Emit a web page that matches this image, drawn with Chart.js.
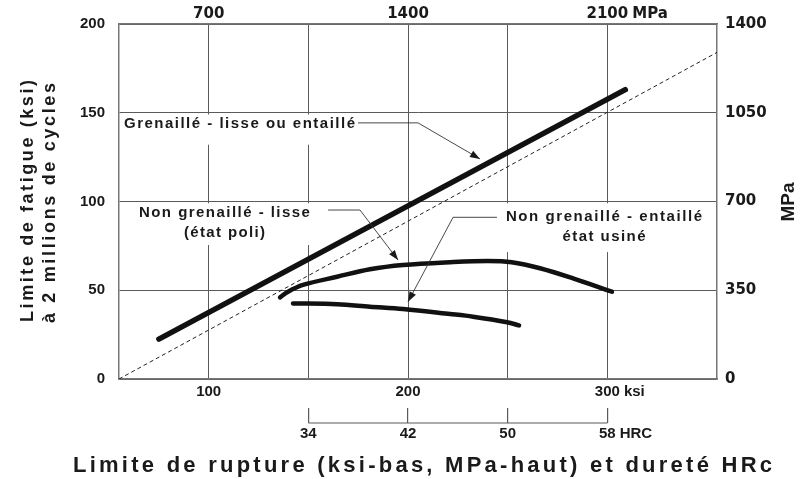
<!DOCTYPE html>
<html lang="fr">
<head>
    <meta charset="UTF-8">
    <title>Limite de fatigue et grenaillage</title>
    <script src="https://cdn.jsdelivr.net/npm/chart.js"></script>
    <style>
        body {
            margin: 0;
            background-color: #fff;
        }
        .chart-container {
            width: 806px;
            height: 479px;
            position: relative;
        }
    </style>
</head>
<body>
    <div class="chart-container">
        <canvas id="fatigueChart"></canvas>
    </div>

    <script>
        // limite de rupture (ksi) -> limite de fatigue (ksi)
        const grenailleX = [75, 309];
        const grenailleY = [22.5, 163];

        const lisseX = [135.8, 139.8, 147.3, 164.4, 180.9, 197.5, 221.1, 240, 252, 266.2, 282.8, 302.3];
        const lisseY = [46.0, 49.2, 53.0, 57.6, 61.8, 64.2, 65.8, 66.5, 65.8, 62.4, 56.7, 49.2];

        const entailleX = [142.3, 164.4, 180.9, 197.5, 221.1, 232.6, 249.7, 255.7];
        const entailleY = [42.6, 42.1, 40.7, 39.4, 36.6, 35.1, 32.0, 30.2];

        // droite de référence en pointillés
        const refX = [55, 355];
        const refY = [0, 184];

        // axes
        const ksiTicks = [100, 150, 200, 250, 300];
        const ksiLabels = ['100', '', '200', '', '300'];
        const mpaTopTicks = [700, 1400, 2100];
        const hrcTicks = [34, 42, 50, 58];
        const fatigueTicks = [0, 50, 100, 150, 200];
        const mpaRightTicks = [0, 350, 700, 1050, 1400];

        const toPoints = (xs, ys) => xs.map((x, i) => ({ x: x, y: ys[i] }));

        const narrow = "'Liberation Sans Narrow', 'Liberation Sans', Arial, sans-serif";
        const wide = "'DejaVu Sans', 'Liberation Sans', sans-serif";
        const ink = '#1a1a1a';
        const gridGrey = '#5a5a5a';

        // labels in data units (ksi / ksi)
        const notes = [
            {
                lines: ['Grenaillé - lisse ou entaillé'], widths: [231],
                x: 57.5, y: [143.5], align: 'left',
                box: [55.6, 175.9, 149, 132],
                leader: [[174.9, 144.3], [205, 144.3], [236.1, 124]]
            },
            {
                lines: ['Non grenaillé - lisse', '(état poli)'], widths: [171, 81],
                x: 107.9, y: [93.7, 82.1], align: 'center',
                box: [55.6, 163, 99, 75.5],
                leader: [[159.9, 95.2], [175.9, 95.2], [195.0, 67.0]]
            },
            {
                lines: ['Non grenaillé - entaillé', 'état usiné'], widths: [196, 83],
                x: 298.3, y: [91.4, 80.2], align: 'center',
                box: [243.6, 352.5, 99, 71.5],
                leader: [[244.6, 91.1], [222.6, 91.1], [200.0, 43.5]]
            }
        ];

        // draw text letter by letter so it fills a given width
        function spacedText(ctx, text, x, y, width, align) {
            const chars = Array.from(text);
            const ws = chars.map(c => ctx.measureText(c).width);
            const natural = ws.reduce((a, b) => a + b, 0);
            const gap = chars.length > 1 ? (width - natural) / (chars.length - 1) : 0;
            let cx = align === 'left' ? x : (align === 'right' ? x - width : x - width / 2);
            ctx.textAlign = 'left';
            chars.forEach((c, i) => {
                ctx.fillText(c, cx, y);
                cx += ws[i] + gap;
            });
        }

        function arrowHead(ctx, from, to) {
            const ang = Math.atan2(to[1] - from[1], to[0] - from[0]);
            const len = 10, half = 3.6;
            ctx.beginPath();
            ctx.moveTo(to[0], to[1]);
            ctx.lineTo(to[0] - len * Math.cos(ang) + half * Math.sin(ang), to[1] - len * Math.sin(ang) - half * Math.cos(ang));
            ctx.lineTo(to[0] - len * Math.cos(ang) - half * Math.sin(ang), to[1] - len * Math.sin(ang) + half * Math.cos(ang));
            ctx.closePath();
            ctx.fill();
        }

        function unitAfterLastLabel(ctx, scale, unit) {
            const items = scale.getLabelItems();
            const last = items[items.length - 1];
            ctx.save();
            ctx.font = last.font.string;
            ctx.fillStyle = ink;
            ctx.textBaseline = last.options.textBaseline;
            ctx.textAlign = 'left';
            const w = ctx.measureText(last.label).width;
            const [tx, ty] = last.options.translation;
            ctx.fillText(unit, tx + w / 2 + 4, ty + last.textOffset);
            ctx.restore();
        }

        const decorPlugin = {
            id: 'decor',
            beforeDatasetsDraw(chart) {
                const { ctx, scales: { x, y } } = chart;
                ctx.save();
                ctx.fillStyle = '#fff';
                notes.forEach(n => {
                    const x0 = x.getPixelForValue(n.box[0]);
                    const x1 = x.getPixelForValue(n.box[1]);
                    const y0 = y.getPixelForValue(n.box[2]);
                    const y1 = y.getPixelForValue(n.box[3]);
                    ctx.fillRect(x0, y0, x1 - x0, y1 - y0);
                });
                ctx.restore();
            },
            afterDatasetsDraw(chart) {
                const { ctx, scales: { x, y } } = chart;
                ctx.save();
                ctx.fillStyle = ink;
                ctx.strokeStyle = '#333';
                ctx.lineWidth = 0.9;
                ctx.font = "bold 15px 'Liberation Sans', Arial, sans-serif";
                ctx.textBaseline = 'middle';
                notes.forEach(n => {
                    n.lines.forEach((line, i) => {
                        spacedText(ctx, line, x.getPixelForValue(n.x), y.getPixelForValue(n.y[i]), n.widths[i], n.align);
                    });
                    const pts = n.leader.map(p => [x.getPixelForValue(p[0]), y.getPixelForValue(p[1])]);
                    ctx.beginPath();
                    pts.forEach((p, i) => (i ? ctx.lineTo(p[0], p[1]) : ctx.moveTo(p[0], p[1])));
                    ctx.stroke();
                    arrowHead(ctx, pts[pts.length - 2], pts[pts.length - 1]);
                });
                ctx.restore();
            },
            afterDraw(chart) {
                const { ctx, scales } = chart;
                const hrc = scales.xHRC;

                // HRC base line between first and last tick
                ctx.save();
                ctx.strokeStyle = gridGrey;
                ctx.lineWidth = 1.2;
                const hy = hrc.top + 15;
                ctx.beginPath();
                ctx.moveTo(hrc.getPixelForValue(hrcTicks[0]), hy);
                ctx.lineTo(hrc.getPixelForValue(hrcTicks[hrcTicks.length - 1]), hy);
                ctx.stroke();
                ctx.restore();

                unitAfterLastLabel(ctx, scales.x, 'ksi');
                unitAfterLastLabel(ctx, scales.xTop, 'MPa');
                unitAfterLastLabel(ctx, hrc, 'HRC');

                ctx.save();
                ctx.fillStyle = ink;
                ctx.textBaseline = 'alphabetic';

                // bottom title
                ctx.font = "bold 22px 'Liberation Sans', Arial, sans-serif";
                spacedText(ctx, 'Limite de rupture (ksi-bas, MPa-haut) et dureté HRc', 422.5, 472, 699, 'center');

                // left title, two lines
                ctx.font = "bold 18px 'Liberation Sans', Arial, sans-serif";
                ctx.save();
                ctx.translate(33, 201);
                ctx.rotate(-Math.PI / 2);
                spacedText(ctx, 'Limite de fatigue (ksi)', 0, 0, 242, 'center');
                ctx.restore();
                ctx.save();
                ctx.translate(55, 203);
                ctx.rotate(-Math.PI / 2);
                spacedText(ctx, 'à 2 millions de cycles', 0, 0, 240, 'center');
                ctx.restore();

                // right title
                ctx.font = "bold 19px 'Liberation Sans', Arial, sans-serif";
                ctx.translate(794, 202);
                ctx.rotate(-Math.PI / 2);
                ctx.textAlign = 'center';
                ctx.fillText('MPa', 0, 0);
                ctx.restore();
            }
        };

        const ctx = document.getElementById('fatigueChart').getContext('2d');
        const fatigueChart = new Chart(ctx, {
            type: 'line',
            data: {
                datasets: [
                    {
                        label: 'Référence',
                        data: toPoints(refX, refY),
                        borderColor: '#222',
                        borderWidth: 1,
                        borderDash: [4, 3],
                        pointRadius: 0
                    },
                    {
                        label: 'Grenaillé - lisse ou entaillé',
                        data: toPoints(grenailleX, grenailleY),
                        borderColor: '#111',
                        borderWidth: 5.5,
                        borderCapStyle: 'round',
                        pointRadius: 0
                    },
                    {
                        label: 'Non grenaillé - lisse',
                        data: toPoints(lisseX, lisseY),
                        borderColor: '#111',
                        borderWidth: 4.5,
                        borderCapStyle: 'round',
                        tension: 0.35,
                        pointRadius: 0
                    },
                    {
                        label: 'Non grenaillé - entaillé',
                        data: toPoints(entailleX, entailleY),
                        borderColor: '#111',
                        borderWidth: 4.5,
                        borderCapStyle: 'round',
                        tension: 0.35,
                        pointRadius: 0
                    }
                ]
            },
            options: {
                responsive: true,
                maintainAspectRatio: false,
                animation: false,
                layout: { padding: 0 },
                plugins: {
                    legend: { display: false },
                    tooltip: { enabled: false }
                },
                scales: {
                    x: {
                        type: 'linear',
                        position: 'bottom',
                        weight: 0,
                        min: 55,
                        max: 355,
                        afterBuildTicks: s => { s.ticks = ksiTicks.map(v => ({ value: v })); },
                        afterFit: s => { s.height = 29; },
                        grid: { color: gridGrey, lineWidth: 1, drawTicks: false },
                        border: { color: '#777', width: 1.5 },
                        ticks: {
                            autoSkip: false,
                            maxRotation: 0,
                            padding: 4,
                            color: ink,
                            font: { family: narrow, size: 15, weight: 'bold' },
                            callback: v => ksiLabels[ksiTicks.indexOf(v)]
                        }
                    },
                    xHRC: {
                        type: 'linear',
                        position: 'bottom',
                        weight: 1,
                        min: 18.8,
                        max: 66.8,
                        afterBuildTicks: s => { s.ticks = hrcTicks.map(v => ({ value: v })); },
                        afterFit: s => { s.height = 71; },
                        grid: { color: gridGrey, lineWidth: 1.2, drawOnChartArea: false, drawTicks: true, tickLength: 15 },
                        border: { display: false },
                        ticks: {
                            autoSkip: false,
                            maxRotation: 0,
                            padding: 2,
                            color: ink,
                            font: { family: narrow, size: 15, weight: 'bold' },
                            callback: v => String(v)
                        }
                    },
                    xTop: {
                        type: 'linear',
                        position: 'top',
                        min: 385,
                        max: 2485,
                        afterBuildTicks: s => { s.ticks = mpaTopTicks.map(v => ({ value: v })); },
                        afterFit: s => { s.height = 24; },
                        grid: { display: false, drawTicks: false },
                        border: { color: '#777', width: 1.5 },
                        ticks: {
                            autoSkip: false,
                            maxRotation: 0,
                            padding: 1,
                            color: ink,
                            font: { family: wide, size: 15, weight: 'bold' },
                            callback: v => String(v)
                        }
                    },
                    y: {
                        type: 'linear',
                        position: 'left',
                        min: 0,
                        max: 200,
                        afterBuildTicks: s => { s.ticks = fatigueTicks.map(v => ({ value: v })); },
                        afterFit: s => { s.width = 119; },
                        grid: { color: gridGrey, lineWidth: 1, drawTicks: false },
                        border: { color: '#777', width: 1.5 },
                        ticks: {
                            padding: 14,
                            color: ink,
                            font: { family: narrow, size: 15, weight: 'bold' },
                            callback: v => String(v)
                        }
                    },
                    y2: {
                        type: 'linear',
                        position: 'right',
                        min: 0,
                        max: 1400,
                        afterBuildTicks: s => { s.ticks = mpaRightTicks.map(v => ({ value: v })); },
                        afterFit: s => { s.width = 89; },
                        grid: { drawOnChartArea: false, drawTicks: false },
                        border: { color: '#777', width: 1.5 },
                        ticks: {
                            padding: 8,
                            color: ink,
                            font: { family: wide, size: 15, weight: 'bold' },
                            callback: v => String(v)
                        }
                    }
                }
            },
            plugins: [decorPlugin]
        });
    </script>
</body>
</html>
